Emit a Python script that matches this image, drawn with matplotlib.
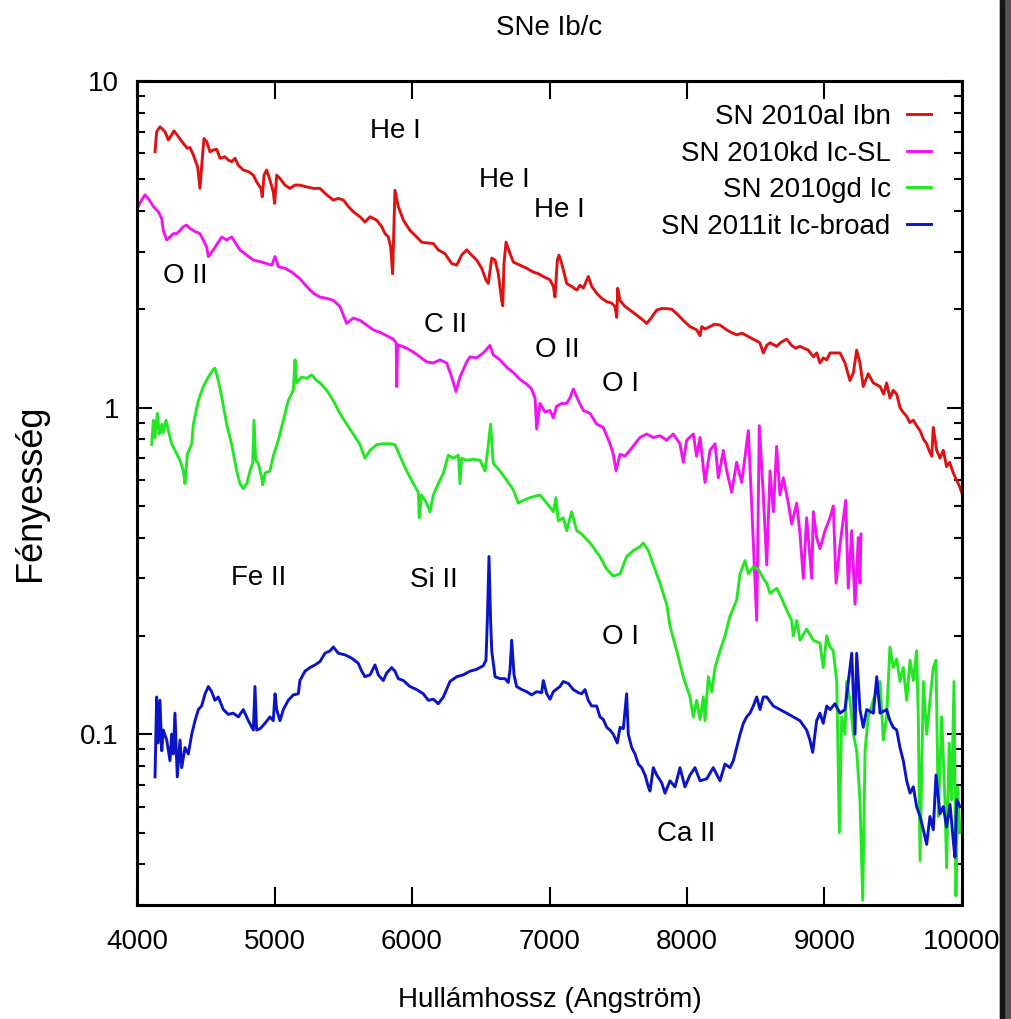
import matplotlib
matplotlib.use("Agg")
import matplotlib.pyplot as plt
from matplotlib.patches import Rectangle

plt.rcParams['font.family'] = ['Liberation Sans Narrow', 'Liberation Sans', 'DejaVu Sans']

# --- spectra (wavelength in Angstrom, relative flux) ---
wl_2010al = [4131, 4143, 4167, 4204, 4228, 4252, 4269, 4301, 4337, 4366, 4385, 4410, 4441, 4458,
             4470, 4487, 4507, 4531, 4555, 4580, 4604, 4640, 4664, 4689, 4713, 4737, 4773, 4810,
             4846, 4870, 4902, 4911, 4924, 4943, 4967, 4991, 5001, 5016, 5040, 5076, 5113, 5149,
             5185, 5234, 5282, 5331, 5380, 5428, 5464, 5501, 5537, 5573, 5622, 5658, 5695, 5743,
             5780, 5804, 5828, 5845, 5859, 5876, 5900, 5937, 5985, 6034, 6070, 6119, 6155, 6191,
             6240, 6289, 6325, 6361, 6398, 6434, 6470, 6507, 6538, 6555, 6580, 6604, 6628, 6652,
             6660, 6669, 6684, 6713, 6737, 6785, 6834, 6882, 6919, 6955, 7004, 7028, 7040, 7057,
             7069, 7089, 7125, 7161, 7198, 7222, 7246, 7282, 7307, 7343, 7380, 7416, 7452, 7476,
             7489, 7496, 7513, 7549, 7585, 7634, 7682, 7707, 7743, 7780, 7816, 7852, 7889, 7925,
             7973, 8022, 8070, 8095, 8107, 8130, 8167, 8200, 8240, 8289, 8320, 8361, 8400, 8434,
             8470, 8507, 8530, 8555, 8580, 8604, 8652, 8680, 8700, 8725, 8761, 8790, 8822, 8850,
             8882, 8919, 8943, 8967, 8991, 9016, 9040, 9064, 9113, 9149,
             9185, 9210, 9234, 9258, 9282, 9318, 9355, 9404, 9430, 9452, 9476, 9500, 9525, 9549,
             9570, 9598, 9620, 9646, 9670, 9695, 9720, 9743, 9760, 9780, 9791, 9816, 9840, 9864,
             9888, 9910, 9937, 9960, 9985, 9997]
fl_2010al = [6.07, 6.99, 7.24, 6.99, 6.60, 6.84, 7.04, 6.75, 6.44, 6.22, 6.26, 5.93, 5.46, 4.69,
             5.46, 6.67, 6.52, 6.07, 6.15, 6.18, 5.80, 5.86, 5.73, 5.66, 5.80, 5.52, 5.34, 5.28,
             5.15, 4.91, 4.69, 4.42, 5.15, 5.34, 4.97, 4.58, 4.22, 5.15, 5.03, 4.80, 4.69, 4.80,
             4.80, 4.74, 4.69, 4.69, 4.48, 4.32, 4.37, 4.32, 4.13, 3.98, 3.84, 3.70, 3.84, 3.75,
             3.58, 3.41, 3.33, 3.10, 2.57, 4.63, 4.13, 3.75, 3.49, 3.33, 3.21, 3.19, 3.18, 3.04,
             2.96, 2.76, 2.73, 2.93, 3.04, 2.93, 2.83, 2.67, 2.46, 2.40, 2.87, 2.83, 2.57, 2.13,
             2.05, 2.76, 3.21, 2.96, 2.79, 2.73, 2.67, 2.60, 2.57, 2.52, 2.46, 2.35, 2.18, 2.83,
             2.93, 2.76, 2.40, 2.35, 2.29, 2.37, 2.32, 2.52, 2.35, 2.24, 2.16, 2.11, 2.09, 2.04,
             1.89, 2.32, 2.13, 2.04, 1.99, 1.92, 1.85, 1.81, 1.89, 1.99, 2.01, 2.01, 2.00, 1.94,
             1.85, 1.77, 1.73, 1.66, 1.77, 1.74, 1.77, 1.80, 1.79, 1.73, 1.70, 1.67, 1.69, 1.66,
             1.63, 1.60, 1.58, 1.47, 1.55, 1.58, 1.54, 1.58, 1.60, 1.62, 1.55, 1.52, 1.54, 1.52,
             1.50, 1.43, 1.47, 1.37, 1.42, 1.40, 1.47, 1.47, 1.47, 1.37,
             1.21, 1.28, 1.50, 1.37, 1.16, 1.27, 1.19, 1.16, 1.10, 1.19, 1.07, 1.13, 1.10, 1.00,
             0.97, 0.94, 0.90, 0.915, 0.88, 0.85, 0.80, 0.775, 0.74, 0.71, 0.87, 0.74, 0.70, 0.74,
             0.66, 0.68, 0.63, 0.60, 0.57, 0.55]

wl_2010kd = [4010, 4034, 4058, 4082, 4119, 4155, 4180, 4191, 4216, 4240, 4264, 4289, 4313, 4337,
             4361, 4385, 4422, 4458, 4482, 4507, 4519, 4555, 4591, 4616, 4652, 4689, 4713, 4749,
             4798, 4846, 4895, 4943, 4980, 5004, 5028, 5076, 5125, 5185, 5234, 5282, 5331, 5380,
             5428, 5476, 5525, 5573, 5622, 5670, 5719, 5767, 5816, 5864, 5885, 5889, 5895, 5961,
             6010, 6058, 6107, 6155, 6204, 6252, 6289, 6320, 6349, 6398, 6422, 6470, 6518, 6567,
             6591, 6640, 6688, 6737, 6785, 6834, 6870, 6895, 6907, 6931, 6967, 7004, 7028, 7052,
             7089, 7125, 7149, 7173, 7210, 7246, 7295, 7343, 7391, 7440, 7464, 7484, 7513, 7549,
             7585, 7622, 7658, 7707, 7755, 7804, 7852, 7900, 7949, 7973, 7998, 8046, 8070, 8095,
             8131, 8167, 8204, 8228, 8264, 8289, 8325, 8361, 8398, 8422, 8446, 8470, 8507, 8526,
             8555, 8580, 8604, 8628, 8652, 8676, 8700, 8737, 8761, 8798, 8822, 8846, 8870, 8907,
             8919, 8943, 8967, 9004, 9040, 9064, 9084, 9113, 9154, 9173, 9198, 9222, 9246, 9258,
             9265]
fl_2010kd = [4.13, 4.32, 4.48, 4.37, 4.13, 3.98, 3.79, 3.49, 3.26, 3.33, 3.41, 3.41, 3.49, 3.58,
             3.62, 3.54, 3.46, 3.41, 3.26, 3.10, 2.90, 3.04, 3.21, 3.33, 3.26, 3.33, 3.21, 3.04,
             2.93, 2.83, 2.80, 2.76, 2.73, 2.90, 2.70, 2.67, 2.60, 2.48, 2.35, 2.24, 2.18, 2.16,
             2.13, 2.04, 1.81, 1.88, 1.85, 1.79, 1.73, 1.70, 1.66, 1.62, 1.58, 1.16, 1.56, 1.52,
             1.48, 1.43, 1.38, 1.37, 1.40, 1.37, 1.24, 1.12, 1.24, 1.38, 1.43, 1.42, 1.47, 1.55,
             1.45, 1.40, 1.33, 1.28, 1.22, 1.18, 1.14, 1.07, 0.86, 1.03, 0.97, 0.98, 0.93, 1.01,
             1.03, 1.03, 1.07, 1.14, 1.05, 0.98, 0.96, 0.89, 0.87, 0.775, 0.72, 0.64, 0.72, 0.71,
             0.74, 0.775, 0.81, 0.83, 0.81, 0.82, 0.795, 0.83, 0.775, 0.68, 0.795, 0.83, 0.71, 0.81,
             0.59, 0.74, 0.775, 0.61, 0.74, 0.64, 0.55, 0.68, 0.59, 0.71, 0.85, 0.51, 0.223, 0.88,
             0.54, 0.33, 0.64, 0.48, 0.76, 0.54, 0.61, 0.51, 0.44, 0.51, 0.41, 0.30, 0.46, 0.30,
             0.48, 0.40, 0.37, 0.42, 0.46, 0.50, 0.29, 0.38, 0.52, 0.28, 0.42, 0.25, 0.40, 0.29,
             0.41]

wl_2010gd = [4107, 4119, 4131, 4148, 4162, 4180, 4191, 4211, 4228, 4252, 4276, 4313, 4337, 4349,
             4366, 4398, 4410, 4446, 4482, 4519, 4555, 4567, 4591, 4616, 4652, 4689, 4725, 4749,
             4773, 4798, 4822, 4841, 4851, 4863, 4882, 4907, 4914, 4931, 4967, 4991, 5028, 5064,
             5100, 5137, 5149, 5161, 5198, 5234, 5270, 5307, 5331, 5380, 5428, 5476, 5525, 5573,
             5622, 5658, 5695, 5743, 5791, 5840, 5876, 5913, 5961, 6010, 6046, 6053, 6070, 6107,
             6131, 6155, 6191, 6228, 6264, 6301, 6337, 6349, 6361, 6398, 6446, 6495, 6531, 6555,
             6572, 6591, 6640, 6688, 6737, 6773, 6810, 6858, 6931, 6980, 7028, 7047, 7064, 7100,
             7125, 7161, 7198, 7234, 7295, 7367, 7416, 7464, 7513, 7561, 7610, 7658, 7682, 7719,
             7755, 7804, 7852, 7876, 7925, 7973, 8022, 8046, 8070, 8095, 8119, 8131, 8155, 8180,
             8204, 8240, 8276, 8313, 8361, 8386, 8422, 8446, 8482, 8519, 8555, 8580, 8604, 8652,
             8689, 8725, 8761, 8773, 8798, 8822, 8870, 8919, 8967, 8991, 9016, 9040, 9064, 9089,
             9108, 9125, 9149, 9161, 9185, 9210, 9234, 9258, 9278, 9295, 9318, 9355, 9404, 9428,
             9452, 9476, 9500, 9525, 9549, 9573, 9598, 9622, 9646, 9670, 9682, 9695, 9719, 9743,
             9767, 9791, 9811, 9828, 9852, 9876, 9888, 9907, 9924, 9942, 9956, 9968, 9985]
fl_2010gd = [0.772, 0.915, 0.81, 0.96, 0.83, 0.89, 0.84, 0.915, 0.85, 0.775, 0.74, 0.69, 0.64, 0.585,
             0.72, 0.775, 0.89, 1.05, 1.16, 1.24, 1.31, 1.32, 1.21, 1.08, 0.89, 0.77, 0.64, 0.585,
             0.565, 0.585, 0.64, 0.675, 0.915, 0.69, 0.675, 0.61, 0.58, 0.63, 0.64, 0.71, 0.795, 0.915,
             1.05, 1.13, 1.40, 1.19, 1.24, 1.23, 1.26, 1.21, 1.19, 1.13, 1.05, 0.96, 0.89, 0.83,
             0.77, 0.70, 0.74, 0.77, 0.775, 0.775, 0.77, 0.71, 0.64, 0.585, 0.55, 0.46, 0.54, 0.51,
             0.48, 0.54, 0.585, 0.63, 0.715, 0.70, 0.715, 0.585, 0.70, 0.69, 0.695, 0.69, 0.64, 0.77,
             0.89, 0.675, 0.64, 0.60, 0.56, 0.51, 0.52, 0.53, 0.54, 0.51, 0.48, 0.53, 0.45, 0.46,
             0.42, 0.48, 0.42, 0.41, 0.385, 0.35, 0.32, 0.305, 0.31, 0.35, 0.365, 0.375, 0.385, 0.365,
             0.33, 0.29, 0.25, 0.215, 0.18, 0.15, 0.13, 0.113, 0.127, 0.111, 0.13, 0.11, 0.15, 0.135,
             0.16, 0.18, 0.20, 0.23, 0.257, 0.31, 0.34, 0.31, 0.325, 0.32, 0.30, 0.29, 0.27, 0.28,
             0.26, 0.24, 0.223, 0.20, 0.223, 0.194, 0.21, 0.194, 0.19, 0.16, 0.20, 0.185, 0.18, 0.145,
             0.05, 0.113, 0.10, 0.145, 0.127, 0.10, 0.089, 0.063, 0.031, 0.089, 0.113, 0.127, 0.145, 0.096,
             0.113, 0.185, 0.16, 0.17, 0.145, 0.16, 0.127, 0.1685, 0.146, 0.18, 0.113, 0.041, 0.145, 0.10,
             0.127, 0.16, 0.1685, 0.056, 0.113, 0.063, 0.039, 0.094, 0.063, 0.145, 0.032, 0.069, 0.05]

wl_2011it = [4131, 4143, 4155, 4167, 4180, 4191, 4216, 4240, 4252, 4264, 4276, 4293, 4313, 4325,
             4349, 4373, 4398, 4422, 4446, 4470, 4495, 4519, 4543, 4567, 4591, 4628, 4664, 4700,
             4737, 4773, 4810, 4846, 4858, 4870, 4895, 4931, 4967, 4991, 5004, 5016, 5040, 5064,
             5100, 5137, 5173, 5185, 5222, 5258, 5295, 5331, 5367, 5404, 5428, 5464, 5513, 5561,
             5609, 5634, 5658, 5695, 5731, 5755, 5791, 5816, 5852, 5876, 5900, 5937, 5985, 6034,
             6082, 6119, 6155, 6191, 6228, 6276, 6325, 6373, 6422, 6470, 6518, 6538, 6548, 6560,
             6572, 6580, 6604, 6640, 6676, 6700, 6713, 6725, 6742, 6761, 6798, 6834, 6870, 6907,
             6943, 6955, 6980, 7004, 7028, 7076, 7100, 7137, 7173, 7210, 7234, 7258, 7282, 7307,
             7343, 7367, 7391, 7416, 7440, 7464, 7493, 7513, 7537, 7561, 7573, 7598, 7622, 7646,
             7670, 7695, 7719, 7731, 7755, 7780, 7816, 7840, 7876, 7913, 7949, 7985, 8022, 8058,
             8095, 8143, 8191, 8240, 8276, 8313, 8337, 8361, 8386, 8410, 8434, 8458, 8482, 8507,
             8531, 8555, 8580, 8628, 8676, 8725, 8773, 8822, 8870, 8894, 8914, 8943, 8967, 8991,
             9016, 9040, 9076, 9113, 9149, 9173, 9198, 9222, 9234, 9258, 9282, 9307, 9355, 9380,
             9404, 9452, 9476, 9500, 9525, 9549, 9573, 9598, 9622, 9646, 9670, 9695, 9719, 9743,
             9767, 9791, 9811, 9840, 9864, 9888, 9913, 9937, 9949, 9961, 9985]
fl_2011it = [0.074, 0.130, 0.094, 0.127, 0.089, 0.103, 0.096, 0.083, 0.100, 0.087, 0.116, 0.074, 0.096, 0.079,
             0.091, 0.087, 0.100, 0.110, 0.119, 0.122, 0.133, 0.140, 0.135, 0.127, 0.130, 0.119, 0.115, 0.116,
             0.113, 0.119, 0.110, 0.103, 0.140, 0.103, 0.104, 0.108, 0.113, 0.110, 0.133, 0.119, 0.110, 0.119,
             0.127, 0.132, 0.133, 0.146, 0.156, 0.160, 0.163, 0.167, 0.177, 0.180, 0.185, 0.177, 0.175, 0.171,
             0.165, 0.156, 0.150, 0.152, 0.163, 0.152, 0.146, 0.154, 0.160, 0.156, 0.148, 0.146, 0.140, 0.137,
             0.133, 0.127, 0.128, 0.124, 0.130, 0.145, 0.150, 0.152, 0.156, 0.158, 0.162, 0.1685, 0.2235, 0.35,
             0.22, 0.18, 0.150, 0.148, 0.148, 0.144, 0.158, 0.194, 0.152, 0.140, 0.137, 0.135, 0.132, 0.135,
             0.134, 0.146, 0.133, 0.128, 0.135, 0.140, 0.145, 0.143, 0.137, 0.134, 0.133, 0.137, 0.127, 0.122,
             0.122, 0.113, 0.111, 0.105, 0.103, 0.100, 0.094, 0.105, 0.104, 0.133, 0.100, 0.091, 0.087, 0.081,
             0.079, 0.075, 0.069, 0.067, 0.079, 0.075, 0.071, 0.066, 0.072, 0.069, 0.079, 0.069, 0.075, 0.079,
             0.072, 0.073, 0.079, 0.072, 0.081, 0.079, 0.083, 0.091, 0.100, 0.108, 0.113, 0.116, 0.122, 0.130,
             0.119, 0.130, 0.130, 0.122, 0.119, 0.116, 0.113, 0.110, 0.103, 0.096, 0.088, 0.110, 0.116, 0.108,
             0.122, 0.119, 0.124, 0.116, 0.119, 0.145, 0.177, 0.100, 0.177, 0.119, 0.105, 0.119, 0.116, 0.150,
             0.116, 0.119, 0.110, 0.105, 0.103, 0.091, 0.083, 0.072, 0.066, 0.069, 0.060, 0.056, 0.051, 0.046,
             0.056, 0.051, 0.075, 0.057, 0.060, 0.052, 0.061, 0.047, 0.042, 0.063, 0.060]

series_names = ['SN 2010al Ibn', 'SN 2010kd Ic-SL', 'SN 2010gd Ic', 'SN 2011it Ic-broad']
series_colors = ['#dd1212', '#f014f0', '#24e624', '#0c14c8']

# line identifications: (text, wavelength, flux)
line_ids = [
    ('He I', 5876, 7.03),
    ('He I', 6669, 4.97),
    ('He I', 7069, 4.03),
    ('O II', 4349, 2.53),
    ('C II', 6240, 1.79),
    ('O II', 7055, 1.50),
    ('O I', 7520, 1.18),
    ('Fe II', 4887, 0.300),
    ('Si II', 6160, 0.296),
    ('O I', 7520, 0.198),
    ('Ca II', 7993, 0.0494),
]

FS = 20

fig = plt.figure(figsize=(10.12, 10.19), dpi=100)
ax = fig.add_axes([137 / 1012, 1 - 905 / 1019, 825 / 1012, 824 / 1019])

spectra = [(wl_2010al, fl_2010al), (wl_2010kd, fl_2010kd),
           (wl_2010gd, fl_2010gd), (wl_2011it, fl_2011it)]
for (wl, fl), name, col in zip(spectra, series_names, series_colors):
    ax.plot(wl, fl, color=col, lw=2.1, label=name)

ax.set_yscale('log')
ax.set_xlim(4000, 10000)
ax.set_ylim(0.03, 10)
ax.set_xticks(range(4000, 10001, 1000))
ax.set_yticks([0.1, 1, 10], ['0.1', '1', '10'])
ax.tick_params(which='both', direction='in', top=True, right=True, labelsize=FS, width=1.5)
ax.tick_params(axis='x', which='major', length=13, pad=17)
ax.tick_params(axis='y', which='major', length=11, pad=13)
ax.tick_params(axis='y', which='minor', length=6)
ax.yaxis.set_minor_formatter(plt.NullFormatter())
for sp in ax.spines.values():
    sp.set_linewidth(2.2)

for txt, wl, fl in line_ids:
    ax.text(wl, fl, txt, ha='center', va='center', fontsize=FS)

ax.set_title('SNe Ib/c', fontsize=FS, pad=33)
ax.set_xlabel('Hullámhossz (Angström)', fontsize=FS)
ax.xaxis.set_label_coords(0.5, -0.100)
ax.set_ylabel('Fényesség', fontsize=26, family=['Liberation Sans', 'DejaVu Sans'])
ax.yaxis.set_label_coords(-0.108, 0.5)

ax.legend(loc='upper right', bbox_to_anchor=(0.9624, 0.972), markerfirst=False,
          frameon=False, handlelength=0.85, handletextpad=0.6, labelspacing=0.38,
          borderaxespad=0, borderpad=0, fontsize=FS)

# dark strip along the right edge
fig.add_artist(Rectangle((1000 / 1012, 0), 12 / 1012, 1, transform=fig.transFigure,
                         color='#555555', zorder=10))
fig.add_artist(Rectangle((1000 / 1012, 0), 4 / 1012, 1, transform=fig.transFigure,
                         color='#151515', zorder=11))

fig.savefig('out.png', dpi=100)
